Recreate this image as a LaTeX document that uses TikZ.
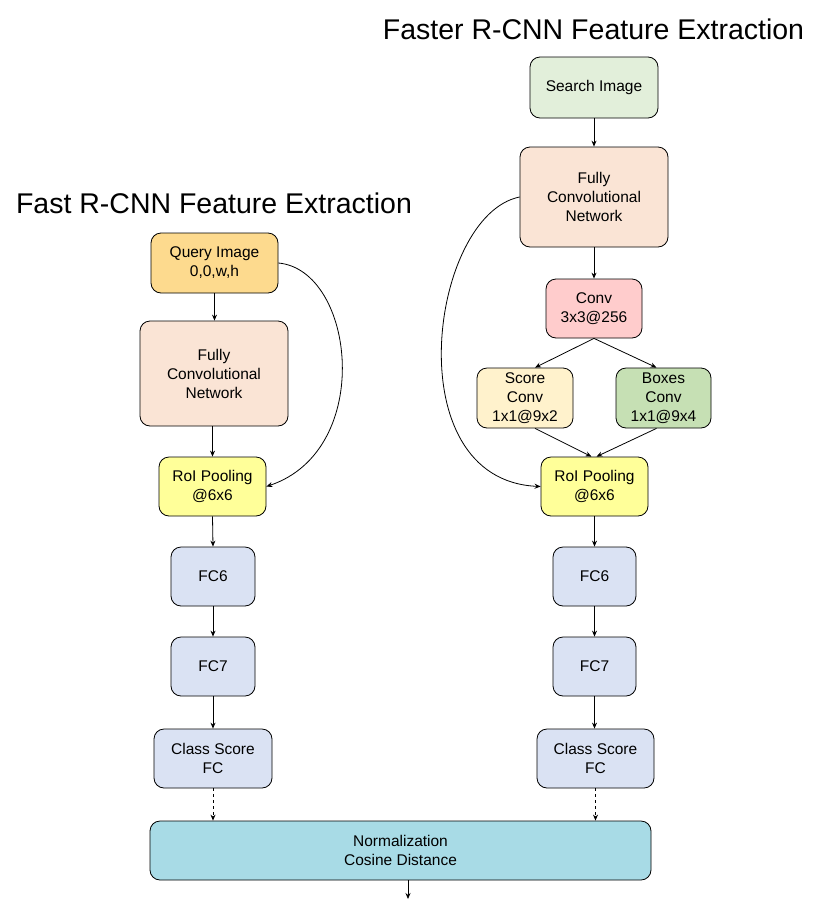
\documentclass[tikz,border=0pt]{standalone}
\usepackage{fontspec}
\setmainfont{Liberation Sans}
\usetikzlibrary{arrows.meta,calc}
\definecolor{cquery}{HTML}{FDDA8E}
\definecolor{cfcn}{HTML}{FAE4D5}
\definecolor{croi}{HTML}{FFFF99}
\definecolor{cfc}{HTML}{DAE2F3}
\definecolor{cnorm}{HTML}{A8DBE6}
\definecolor{csearch}{HTML}{E2EFDA}
\definecolor{cconv}{HTML}{FFCCCC}
\definecolor{cscore}{HTML}{FFF2CC}
\definecolor{cboxes}{HTML}{C6E0B4}
\tikzset{
  blk/.style={draw=black,line width=0.8pt,rounded corners=10pt,align=center,inner sep=0pt,
    font=\fontsize{15.5}{19}\selectfont},
  arr/.style={line width=0.8pt,-{Stealth[length=6pt,width=5pt]}},
  darr/.style={arr,dashed},
  ttl/.style={font=\fontsize{28.5}{34}\selectfont,inner sep=0pt}
}
\begin{document}
\begin{tikzpicture}[x=1pt,y=-1pt]
\useasboundingbox (0,0) rectangle (819,908);
\fill[white] (0,0) rectangle (819,908);
% titles
\node[ttl] (t1) at (593.5,29) {Faster R-CNN Feature Extraction};
\node[ttl] (t2) at (214,203) {Fast R-CNN Feature Extraction};
% left column
\node[blk,fill=cquery,minimum width=127pt,minimum height=60pt] (q) at (214.5,263) {Query Image\\0,0,w,h};
\node[blk,fill=cfcn,minimum width=148pt,minimum height=105pt] (fl) at (214,373.5) {Fully\\Convolutional\\Network};
\node[blk,fill=croi,minimum width=107pt,minimum height=59pt] (rl) at (212.5,486.5) {RoI Pooling\\@6x6};
\node[blk,fill=cfc,minimum width=84pt,minimum height=59pt] (f6l) at (213,576.5) {FC6};
\node[blk,fill=cfc,minimum width=84pt,minimum height=59pt] (f7l) at (213,666.5) {FC7};
\node[blk,fill=cfc,minimum width=118pt,minimum height=59pt] (cl) at (213,758.5) {Class Score\\FC};
% right column
\node[blk,fill=csearch,minimum width=128pt,minimum height=61pt] (s) at (594,87.5) {Search Image};
\node[blk,fill=cfcn,minimum width=148pt,minimum height=100pt] (fr) at (594,197) {Fully\\Convolutional\\Network};
\node[blk,fill=cconv,minimum width=96pt,minimum height=59pt] (cv) at (594,308.5) {Conv\\3x3@256};
\node[blk,fill=cscore,minimum width=96pt,minimum height=60pt] (sc) at (525,398) {Score\\Conv\\1x1@9x2};
\node[blk,fill=cboxes,minimum width=95pt,minimum height=60pt] (bx) at (663.5,398) {Boxes\\Conv\\1x1@9x4};
\node[blk,fill=croi,minimum width=107pt,minimum height=59pt] (rr) at (594.5,486.5) {RoI Pooling\\@6x6};
\node[blk,fill=cfc,minimum width=83pt,minimum height=59pt] (f6r) at (594.5,576.5) {FC6};
\node[blk,fill=cfc,minimum width=83pt,minimum height=59pt] (f7r) at (594.5,666.5) {FC7};
\node[blk,fill=cfc,minimum width=117pt,minimum height=59pt] (cr) at (595.5,758.5) {Class Score\\FC};
% bottom
\node[blk,fill=cnorm,minimum width=501pt,minimum height=59pt] (n) at (400.5,850.5) {Normalization\\Cosine Distance};
\coordinate (out) at (408,899);
% left edges
\draw[arr] (q.south) -- (q.south |- fl.north);
\draw[arr] (fl.south -| rl.north) -- (rl.north);
\draw[arr] (q.east) .. controls (355,270) and (375,450) .. (rl.east);
\draw[arr] (rl.south) -- (f6l.north);
\draw[arr] (f6l.south) -- (f7l.north);
\draw[arr] (f7l.south) -- (cl.north);
\draw[darr] (cl.south) -- (cl.south |- n.north);
% right edges
\draw[arr] (s.south) -- (fr.north);
\draw[arr] (fr.south) -- (cv.north);
\draw[arr] (cv.south) -- ([xshift=10pt]sc.north);
\draw[arr] (cv.south) -- ([xshift=-7pt]bx.north);
\draw[arr] ([xshift=10pt]sc.south) -- ([xshift=-3pt]rr.north);
\draw[arr] ([xshift=-7pt]bx.south) -- ([xshift=2pt]rr.north);
\draw[arr] (fr.west) .. controls (430,215) and (395,480) .. (rr.west);
\draw[arr] (rr.south) -- (f6r.north);
\draw[arr] (f6r.south) -- (f7r.north);
\draw[arr] (f7r.south) -- (f7r.south |- cr.north);
\draw[darr] (cr.south) -- (cr.south |- n.north);
\draw[arr] (n.south -| out) -- (out);
\end{tikzpicture}
\end{document}
